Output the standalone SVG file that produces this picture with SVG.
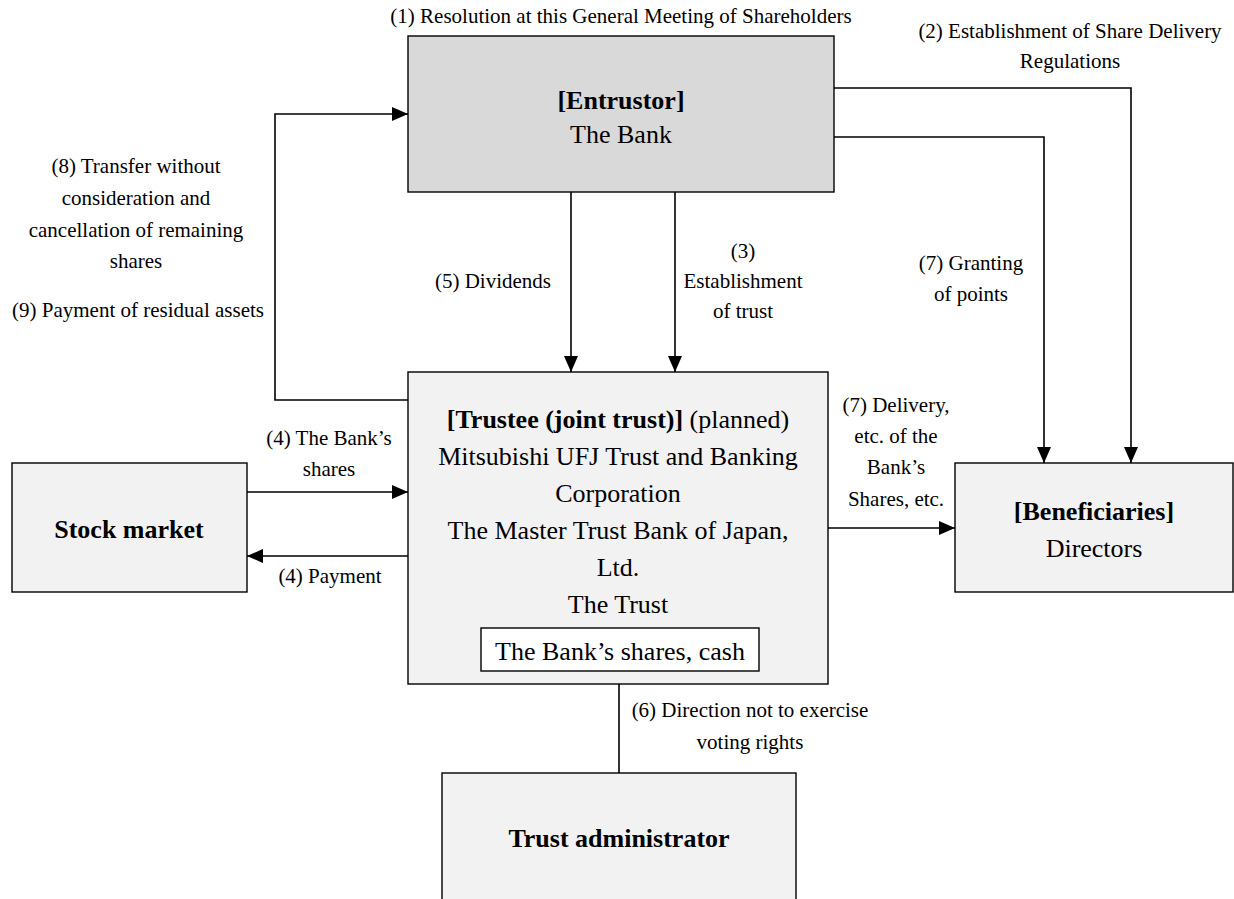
<svg xmlns="http://www.w3.org/2000/svg" width="1234" height="899" viewBox="0 0 1234 899">
<defs>
<style>
.box{stroke:#000;stroke-width:1.4;fill:#f2f2f2}
.dark{fill:#d9d9d9}
.inner{fill:#fff}
text{font-family:"Liberation Serif","Times New Roman",serif;fill:#000}
.t{font-size:26px;text-anchor:middle}
.b{font-weight:bold}
.l{font-size:21px;text-anchor:middle}
.c{fill:none;stroke:#000;stroke-width:1.6}
</style>
<marker id="ah" markerUnits="userSpaceOnUse" markerWidth="16" markerHeight="16" viewBox="0 0 16 16" refX="16" refY="8" orient="auto">
<path d="M0,1 L16,8 L0,15 Z" fill="#000"/>
</marker>
</defs>
<rect width="1234" height="899" fill="#fff"/>
<g id="connectors">
<path class="c" d="M834,88 H1131 V463" marker-end="url(#ah)"/>
<path class="c" d="M834,137 H1044 V463" marker-end="url(#ah)"/>
<path class="c" d="M408,400 H275 V114 H408" marker-end="url(#ah)"/>
<path class="c" d="M571,192 V372" marker-end="url(#ah)"/>
<path class="c" d="M675,192 V372" marker-end="url(#ah)"/>
<path class="c" d="M247,492 H408" marker-end="url(#ah)"/>
<path class="c" d="M408,556 H247" marker-end="url(#ah)"/>
<path class="c" d="M828,528 H955" marker-end="url(#ah)"/>
<path class="c" d="M619,684 V773"/>
</g>
<g id="labels">
<text class="l" x="621" y="23">(1) Resolution at this General Meeting of Shareholders</text>
<text class="l" x="1070" y="38">(2) Establishment of Share Delivery</text>
<text class="l" x="1070" y="68">Regulations</text>
<text class="l" x="136" y="173">(8) Transfer without</text>
<text class="l" x="136" y="205">consideration and</text>
<text class="l" x="136" y="237">cancellation of remaining</text>
<text class="l" x="136" y="268">shares</text>
<text class="l" x="138" y="317">(9) Payment of residual assets</text>
<text class="l" x="493" y="288">(5) Dividends</text>
<text class="l" x="743" y="258">(3)</text>
<text class="l" x="743" y="288">Establishment</text>
<text class="l" x="743" y="318">of trust</text>
<text class="l" x="971" y="270">(7) Granting</text>
<text class="l" x="971" y="301">of points</text>
<text class="l" x="329" y="445">(4) The Bank’s</text>
<text class="l" x="329" y="476">shares</text>
<text class="l" x="330" y="583">(4) Payment</text>
<text class="l" x="896" y="412">(7) Delivery,</text>
<text class="l" x="896" y="443">etc. of the</text>
<text class="l" x="896" y="474">Bank’s</text>
<text class="l" x="896" y="506">Shares, etc.</text>
<text class="l" x="750" y="717">(6) Direction not to exercise</text>
<text class="l" x="750" y="749">voting rights</text>
</g>
<g id="entrustor">
<rect class="box dark" x="408" y="36" width="426" height="156"/>
<text class="t b" x="621" y="109">[Entrustor]</text>
<text class="t" x="621" y="143">The Bank</text>
</g>
<g id="trustee">
<rect class="box" x="408" y="372" width="420" height="312"/>
<text class="t" x="618" y="428"><tspan class="b">[Trustee (joint trust)]</tspan> (planned)</text>
<text class="t" x="618" y="465">Mitsubishi UFJ Trust and Banking</text>
<text class="t" x="618" y="502">Corporation</text>
<text class="t" x="618" y="539">The Master Trust Bank of Japan,</text>
<text class="t" x="618" y="576">Ltd.</text>
<text class="t" x="618" y="613">The Trust</text>
<rect class="box inner" x="481" y="628" width="278" height="43"/>
<text class="t" x="620" y="660">The Bank’s shares, cash</text>
</g>
<g id="stock-market">
<rect class="box" x="12" y="463" width="235" height="129"/>
<text class="t b" x="129" y="538">Stock market</text>
</g>
<g id="beneficiaries">
<rect class="box" x="955" y="463" width="278" height="129"/>
<text class="t b" x="1094" y="520">[Beneficiaries]</text>
<text class="t" x="1094" y="557">Directors</text>
</g>
<g id="trust-administrator">
<rect class="box" x="442" y="773" width="354" height="140"/>
<text class="t b" x="619" y="847">Trust administrator</text>
</g>
</svg>
